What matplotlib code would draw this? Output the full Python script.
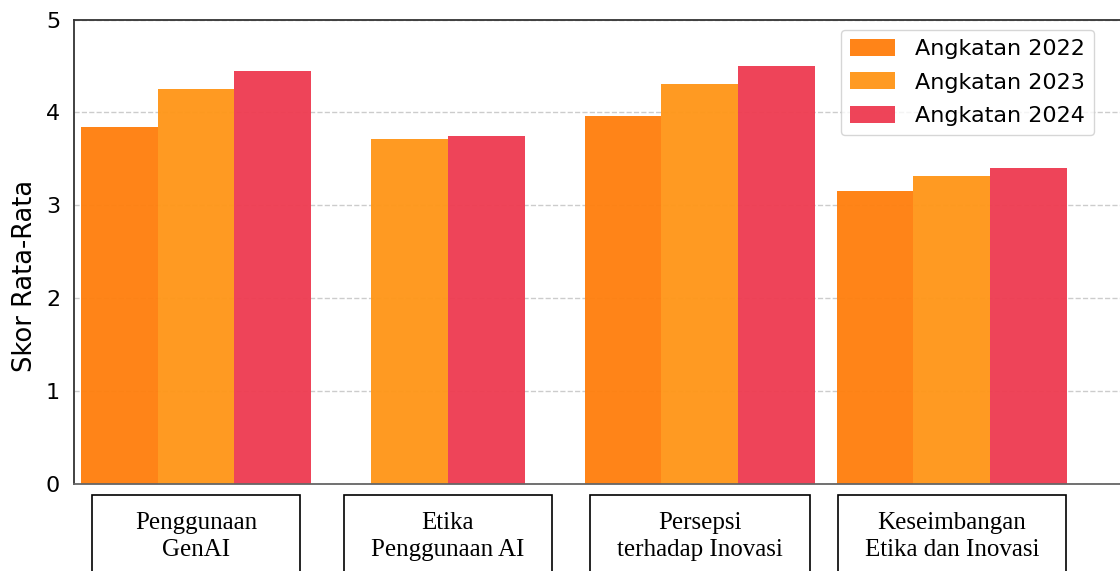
import numpy as np
import matplotlib
matplotlib.use('Agg')
from matplotlib import pyplot as plt
from matplotlib.patches import Rectangle
from matplotlib.transforms import IdentityTransform, Affine2D

categories = ['Penggunaan\nGenAI', 'Etika\nPenggunaan AI',
              'Persepsi\nterhadap Inovasi', 'Keseimbangan\nEtika dan Inovasi']
cohorts = ['Angkatan 2022', 'Angkatan 2023', 'Angkatan 2024']
skor_2022 = [3.84, np.nan, 3.96, 3.15]
skor_2023 = [4.25, 3.71, 4.31, 3.32]
skor_2024 = [4.45, 3.75, 4.50, 3.40]
series = [skor_2022, skor_2023, skor_2024]
colors = ['#ff8010', '#ff971a', '#ee3e53']

W, H = 1120, 571
fig = plt.figure(figsize=(W / 100, H / 100), dpi=100)
ax = fig.add_axes([74 / W, 87 / H, (1125 - 74) / W, (484 - 19.5) / H])

width = 0.305
groups = np.arange(len(categories))
vals = np.array(series, dtype=float)

# center whichever bars exist in each group
for s, name in enumerate(cohorts):
    xs, hs = [], []
    for g in groups:
        present = [k for k in range(len(series)) if not np.isnan(vals[k, g])]
        if s not in present:
            continue
        pos = present.index(s) - (len(present) - 1) / 2
        xs.append(g + pos * width)
        hs.append(vals[s, g])
    ax.bar(xs, hs, width, color=colors[s], alpha=0.97, label=name, zorder=2)

ax.set_xlim(-0.484, 3.687)
ax.set_ylim(0, 5)
ax.set_yticks(range(6))
ax.set_xticks([])
ax.tick_params(axis='y', length=0, pad=10, labelsize=16)
ax.yaxis.grid(True, linestyle='--', color='#cccccc', linewidth=1, zorder=0)
ax.set_axisbelow(True)
for sp in ax.spines.values():
    sp.set_color('#333333')
    sp.set_linewidth(1.3)
ax.spines['bottom'].set_color('#666666')

ax.set_ylabel('Skor Rata-Rata', fontsize=18.5)
ax.yaxis.set_label_coords(-0.034, 0.448)

leg = ax.legend(loc='upper left', bbox_to_anchor=(841 / W, (H - 30) / H),
                bbox_transform=fig.transFigure, borderaxespad=0, fontsize=16,
                handlelength=2.05, handleheight=0.8, handletextpad=0.9,
                labelspacing=0.6, frameon=True, fancybox=True, edgecolor='#cccccc')

# boxed category names under the axis
texts = []
for g, cat in zip(groups, categories):
    t = ax.text(g, 0, cat, transform=ax.get_xaxis_transform(), ha='center', va='center',
                fontsize=18, family='Liberation Serif', linespacing=1.32)
    texts.append(t)

fig.canvas.draw()
r = fig.canvas.get_renderer()
for t in texts:
    bb = t.get_window_extent(r)
    # move the text block so its middle sits at y=536 px from the top
    dy = (H - 536.5) - (bb.y0 + bb.y1) / 2
    t.set_transform(ax.get_xaxis_transform() + Affine2D().translate(0, dy))
    cx = (bb.x0 + bb.x1) / 2
    bw = max(208, bb.width + 54)
    top = H - 495
    fig.add_artist(Rectangle((cx - bw / 2, -30), bw, top + 30, transform=IdentityTransform(),
                             fill=False, edgecolor='black', linewidth=1.2))

fig.savefig('out.png', dpi=100)
